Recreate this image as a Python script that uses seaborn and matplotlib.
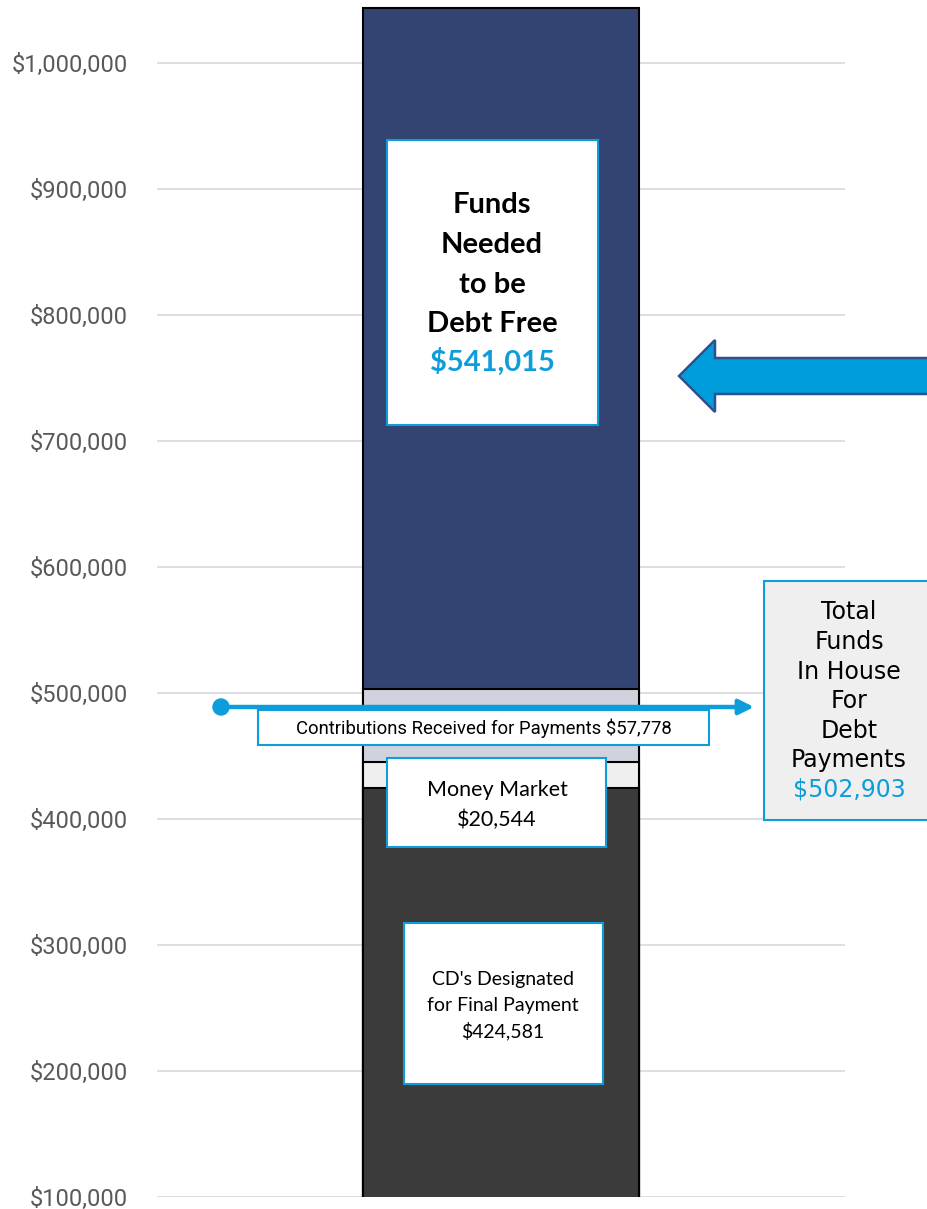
import numpy as np
import pandas as pd
import matplotlib
matplotlib.use("Agg")
import matplotlib.pyplot as plt
import matplotlib.patches as patches
import matplotlib.transforms as mtransforms
from matplotlib.ticker import StrMethodFormatter
import seaborn as sns

# Segments from bottom to top of the stacked bar
segments = ["CD's Designated for Final Payment", "Money Market",
            "Contributions Received for Payments", "Funds Needed to be Debt Free"]
amounts = [424581, 20544, 57778, 541015]
seg_colors = ["#3b3b3b", "#efefef", "#d0d2de", "#344472"]
in_house_total = 502903
y_ticks = [100000, 200000, 300000, 400000, 500000, 600000, 700000, 800000, 900000, 1000000]

BLUE = "#0e9ddb"
W, H = 927, 1209

sns.set_theme(style="white")
plt.rcParams['font.family'] = ['Roboto', 'DejaVu Sans']

fig = plt.figure(figsize=(W / 100, H / 100), dpi=100)
ax = fig.add_axes([157 / W, (H - 1197) / H, (845 - 157) / W, 1197 / H])

# pixel transform (origin top-left) for the callout boxes
px = mtransforms.Affine2D().scale(1 / W, -1 / H).translate(0, 1) + fig.transFigure

# stacked bar: draw cumulative totals, tallest first
tops = np.cumsum(amounts)
df = pd.DataFrame({"segment": segments, "top": tops, "color": seg_colors})
for _, row in df.iloc[::-1].iterrows():
    sns.barplot(x=["total"], y=[row["top"]], color=row["color"], saturation=1,
                width=0.401, edgecolor="black", linewidth=1.5, errorbar=None, ax=ax)

ax.set_xlim(-0.5, 0.5)
ax.set_ylim(100000, 1050000)
ax.set_yticks(y_ticks)
ax.yaxis.set_major_formatter(StrMethodFormatter("${x:,.0f}"))
ax.tick_params(axis="y", length=0, pad=21, labelsize=17, labelcolor="#595959")
ax.set_xticks([])
ax.set_xlabel("")
ax.set_ylabel("")
ax.grid(axis="y", color="#d9d9d9", linewidth=1.2)
ax.set_axisbelow(True)
for s in ax.spines.values():
    s.set_visible(False)


def box(x0, y0, x1, y1, face="white"):
    ax.add_patch(patches.Rectangle((x0, y0), x1 - x0, y1 - y0, transform=px,
                                   facecolor=face, edgecolor=BLUE, linewidth=1.5,
                                   clip_on=False, zorder=5))


def label(x, y, s, size, color="black", weight="normal", family="Lato"):
    ax.text(x, y, s, transform=px, ha="center", va="center", fontsize=size,
            color=color, fontweight=weight, family=[family, "DejaVu Sans"],
            zorder=6, clip_on=False)


# Funds needed box
box(387, 140, 598, 425)
for yy, s in zip([205, 245, 285, 324], ["Funds", "Needed", "to be", "Debt Free"]):
    label(492, yy, s, 21, weight="bold")
label(492, 362, f"${amounts[3]:,}", 21, color=BLUE, weight="bold")

# Money market box
box(387, 758, 606, 847)
label(497, 790, "Money Market", 15.5)
label(497, 820, f"${amounts[1]:,}", 15.5)

# CD box
box(404, 923, 603, 1084)
label(503, 980, "CD's Designated", 14)
label(503, 1005, "for Final Payment", 14)
label(503, 1031, f"${amounts[0]:,}", 14)

# Contributions box and arrow line
box(258, 710, 709, 745)
label(484, 728, f"Contributions Received for Payments ${amounts[2]:,}", 13.3, family="Roboto")
ax.annotate("", xy=(754, 707), xytext=(221, 707), xycoords=px, textcoords=px,
            arrowprops=dict(arrowstyle="-|>", color=BLUE, lw=3.2, mutation_scale=22,
                            shrinkA=0, shrinkB=0), zorder=7, annotation_clip=False)
ax.add_patch(patches.Circle((221, 707), 8, transform=px, color=BLUE, clip_on=False, zorder=7))

# Total funds in house box
box(764, 581, 940, 820, face="#efefef")
for yy, s in zip([612, 642, 672, 701, 731, 760],
                 ["Total", "Funds", "In House", "For", "Debt", "Payments"]):
    label(849, yy, s, 17, family="DejaVu Sans")
label(849, 789, f"${in_house_total:,}", 17, color=BLUE, family="DejaVu Sans")

# big left-pointing arrow
arrow_pts = [(679, 376), (715, 340), (715, 358), (940, 358),
             (940, 394), (715, 394), (715, 412)]
ax.add_patch(patches.Polygon(arrow_pts, closed=True, transform=px, facecolor="#009ddc",
                             edgecolor="#2f528f", linewidth=1.8, clip_on=False, zorder=5))

fig.savefig("out.png", dpi=100)
